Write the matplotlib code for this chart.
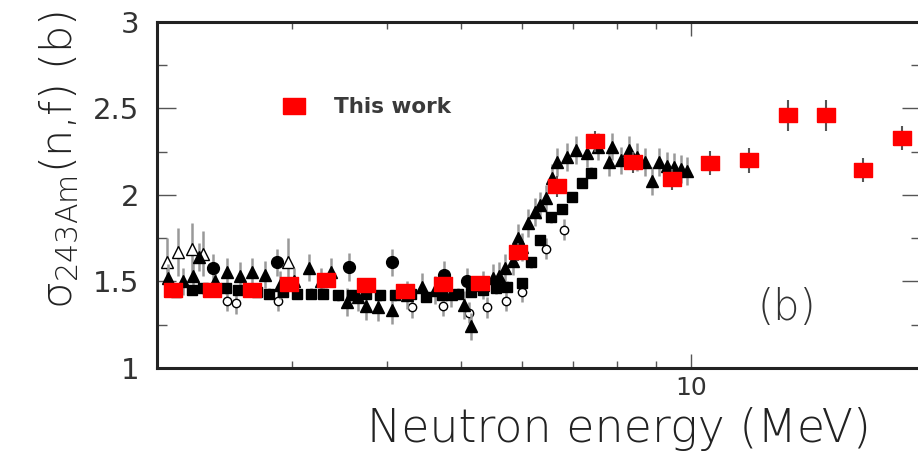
import numpy as np
import matplotlib
matplotlib.use('Agg')
from matplotlib import pyplot as plt
from matplotlib.lines import Line2D
from matplotlib.ticker import FixedLocator, NullFormatter

# "This work" (red squares)
tw_energy = [2.10, 2.36, 2.66, 2.98, 3.33, 3.75, 4.22, 4.73, 5.30, 5.94,
             6.68, 7.49, 8.40, 9.44, 10.6, 11.9, 13.4, 15.0, 16.8, 18.9]
tw_sigma = [1.45, 1.45, 1.45, 1.485, 1.51, 1.48, 1.445, 1.485, 1.49, 1.67,
            2.05, 2.31, 2.19, 2.09, 2.185, 2.20, 2.46, 2.46, 2.145, 2.33]
tw_err = [0.04, 0.04, 0.04, 0.04, 0.04, 0.04, 0.04, 0.04, 0.04, 0.05,
          0.06, 0.06, 0.06, 0.06, 0.07, 0.07, 0.09, 0.09, 0.07, 0.07]

# other measurements, filled squares
sq_energy = [2.12, 2.22, 2.30, 2.46, 2.55, 2.70, 2.80, 2.92, 3.05, 3.18,
             3.30, 3.45, 3.60, 3.75, 3.92, 4.10, 4.30, 4.50, 4.72, 4.95,
             5.15, 5.35, 5.55, 5.75, 6.01, 6.18, 6.35, 6.56, 6.78, 6.98,
             7.20, 7.40]
sq_sigma = [1.44, 1.45, 1.46, 1.46, 1.45, 1.44, 1.43, 1.44, 1.43, 1.43,
            1.43, 1.42, 1.42, 1.43, 1.42, 1.42, 1.43, 1.41, 1.42, 1.43,
            1.44, 1.45, 1.46, 1.47, 1.49, 1.61, 1.74, 1.87, 1.92, 1.99,
            2.07, 2.13]

# filled triangles
tri_energy = [2.07, 2.16, 2.23, 2.27, 2.38, 2.47, 2.57, 2.66, 2.77, 2.90,
              3.02, 3.16, 3.28, 3.38, 3.55, 3.66, 3.76, 3.89, 4.06, 4.25,
              4.44, 4.62, 4.85, 5.05, 5.16, 5.35, 5.50, 5.61, 5.70, 5.85,
              5.93, 6.01, 6.12, 6.24, 6.35, 6.46, 6.57, 6.68, 6.88, 7.08,
              7.30, 7.55, 7.81, 7.89, 8.10, 8.30, 8.50, 8.70, 8.89, 9.08,
              9.30, 9.50, 9.70, 9.88]
tri_sigma = [1.52, 1.50, 1.53, 1.64, 1.50, 1.555, 1.53, 1.555, 1.54, 1.48,
             1.50, 1.58, 1.50, 1.555, 1.38, 1.41, 1.36, 1.35, 1.335, 1.42,
             1.47, 1.45, 1.43, 1.365, 1.24, 1.48, 1.52, 1.53, 1.58, 1.62,
             1.75, 1.70, 1.84, 1.90, 1.94, 1.98, 2.10, 2.19, 2.22, 2.26,
             2.24, 2.28, 2.19, 2.28, 2.20, 2.26, 2.22, 2.19, 2.08, 2.19,
             2.17, 2.16, 2.15, 2.14]

# filled circles
circ_energy = [2.37, 2.87, 3.57, 4.06, 4.75, 5.09]
circ_sigma = [1.58, 1.61, 1.585, 1.61, 1.54, 1.50]

# open triangles
otri_energy = [2.06, 2.13, 2.22, 2.30, 2.97]
otri_sigma = [1.61, 1.67, 1.69, 1.66, 1.61]
otri_err = [0.14, 0.14, 0.15, 0.13, 0.14]

# open circles
ocirc_energy = [2.47, 2.54, 2.88, 4.31, 4.73, 5.12, 5.40, 5.73, 6.01, 6.46,
                6.82]
ocirc_sigma = [1.39, 1.375, 1.39, 1.35, 1.36, 1.32, 1.35, 1.39, 1.44, 1.69,
               1.80]

GREY = '#999999'
INK = '#222222'


def draw_data(a_ax):
    """ Draw all data sets, other measurements first, this work on top """
    a_ax.errorbar(ocirc_energy, ocirc_sigma, yerr=0.06, fmt='o', ms=6,
            mfc='white', mec='black', mew=1.0, ecolor=GREY, elinewidth=1.8,
            capsize=0, zorder=2)
    a_ax.errorbar(otri_energy, otri_sigma, yerr=otri_err, fmt='^', ms=9,
            mfc='white', mec='black', mew=1.0, ecolor=GREY, elinewidth=1.8,
            capsize=0, zorder=2)
    a_ax.errorbar(sq_energy, sq_sigma, yerr=0.03, fmt='s', ms=7.5,
            color='black', ecolor=GREY, elinewidth=1.8, capsize=0, zorder=3)
    a_ax.errorbar(tri_energy, tri_sigma, yerr=0.08, fmt='^', ms=8.5,
            color='black', ecolor=GREY, elinewidth=1.8, capsize=0, zorder=3)
    a_ax.errorbar(circ_energy, circ_sigma, yerr=0.08, fmt='o', ms=8.5,
            color='black', ecolor=GREY, elinewidth=1.8, capsize=0, zorder=3)
    # red rectangles, slightly wider than tall
    rect = [(-1.3, -1), (1.3, -1), (1.3, 1), (-1.3, 1), (-1.3, -1)]
    a_ax.errorbar(tw_energy, tw_sigma, yerr=tw_err, fmt='none',
            ecolor='#555555', elinewidth=1.5, capsize=0, zorder=4)
    a_ax.plot(tw_energy, tw_sigma, linestyle='none', marker=rect, ms=12.5,
            color='#ff0000', mec='#ff0000', zorder=5)
    handle = Line2D([], [], linestyle='none', marker=rect, ms=15.5,
            color='#ff0000', mec='#ff0000')
    a_ax.legend([handle], ['This work'], loc='center left',
            bbox_to_anchor=(0.126, 0.754), frameon=False, handletextpad=0.85,
            prop={'size': 15.5, 'weight': 'bold'}, labelcolor='#3a3a3a')
# enddef draw_data() #


def main():
    plt.rcParams['font.family'] = ['DejaVu Sans']
    plt.rcParams['mathtext.default'] = 'regular'
    fig = plt.figure(figsize=(9.18, 4.51), dpi=100)
    ax = fig.add_axes([157 / 918, 1 - 368 / 451, 764 / 918, 346 / 451])
    draw_data(ax)

    ax.set_xscale('log')
    ax.set_xlim(2, 20)
    ax.set_ylim(1, 3)
    ax.xaxis.set_major_locator(FixedLocator([10]))
    ax.xaxis.set_minor_locator(FixedLocator([3, 4, 5, 6, 7, 8, 9]))
    ax.xaxis.set_minor_formatter(NullFormatter())
    ax.set_xticklabels(['10'])
    ax.yaxis.set_major_locator(FixedLocator([1, 1.5, 2, 2.5, 3]))
    ax.yaxis.set_minor_locator(FixedLocator([1.25, 1.75, 2.25, 2.75]))
    ax.set_yticklabels(['1', '1.5', '2', '2.5', '3'])

    for side in ax.spines.values():
        side.set_linewidth(2.2)
        side.set_color(INK)
    ax.tick_params(which='both', direction='in', top=True, right=True,
            color='#555555', width=1.0)
    ax.tick_params(axis='y', which='major', length=14, pad=13,
            labelsize=21, labelcolor='#333333')
    ax.tick_params(axis='y', which='minor', length=7)
    ax.tick_params(axis='x', which='major', length=10, pad=6,
            labelsize=18, labelcolor='#333333')
    ax.tick_params(axis='x', which='minor', length=5)

    ax.set_xlabel('Neutron energy (MeV)', fontsize=33, color='#222222',
            fontweight='light')
    ax.xaxis.set_label_coords(0.605, -0.215, transform=ax.transAxes)
    ax.xaxis.label.set_verticalalignment('baseline')
    ax.set_ylabel(r'$\sigma_{243Am}$(n,f) (b)', fontsize=31,
            color='#222222', fontweight='light')
    ax.yaxis.set_label_coords(-0.10, 0.60, transform=ax.transAxes)

    ax.text(0.825, 0.176, '(b)', transform=ax.transAxes, fontsize=30,
            color='#333333', ha='center', va='center', fontweight='light')

    fig.savefig('out.png', dpi=100)
# enddef main() #


if __name__ == "__main__":
    main()
# endif #
